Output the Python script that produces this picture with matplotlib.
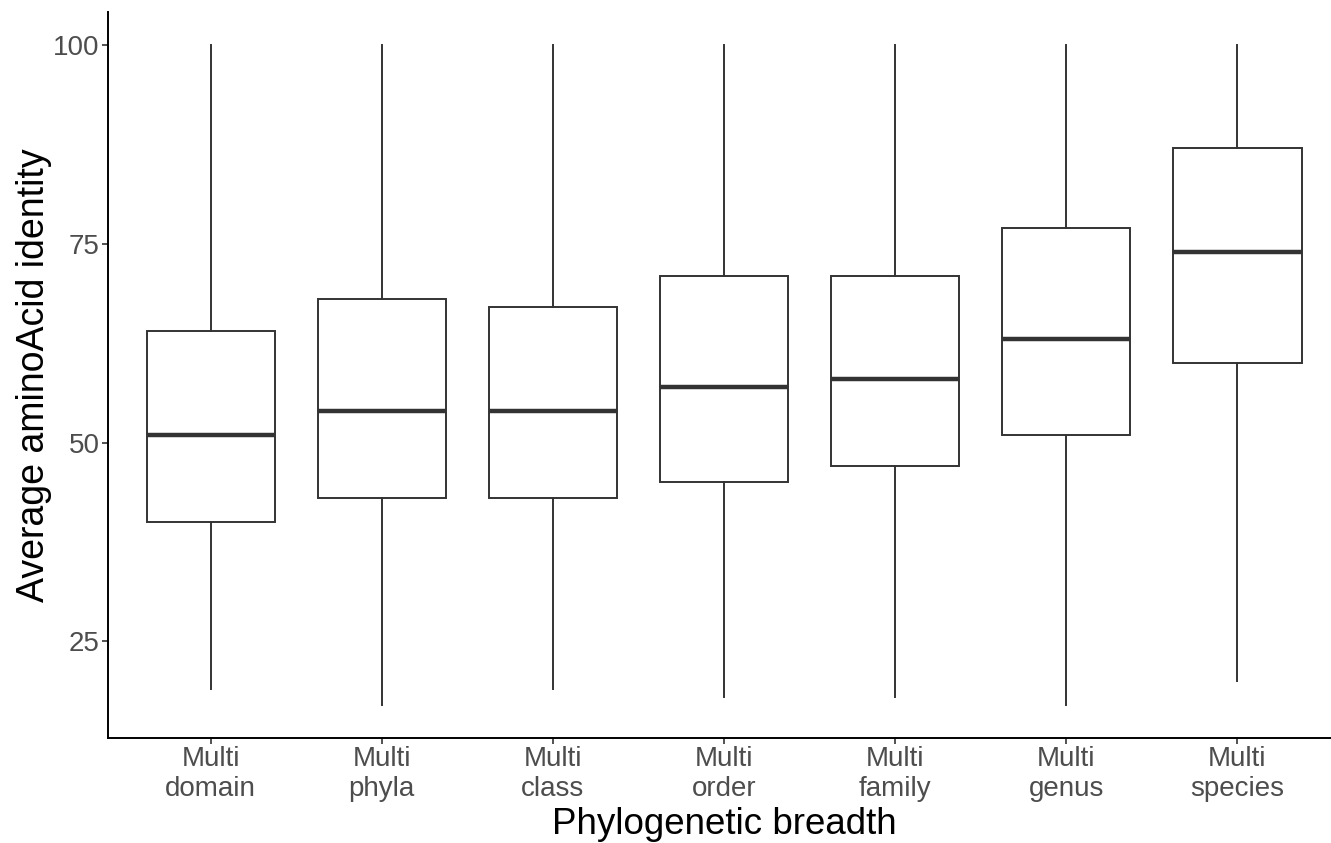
import matplotlib.pyplot as plt

plt.rcParams['font.family'] = ['Liberation Sans', 'DejaVu Sans']

categories = ['Multi\ndomain', 'Multi\nphyla', 'Multi\nclass', 'Multi\norder',
              'Multi\nfamily', 'Multi\ngenus', 'Multi\nspecies']
whisker_low = [19, 17, 19, 18, 18, 17, 20]
q1 = [40, 43, 43, 45, 47, 51, 60]
median = [51, 54, 54, 57, 58, 63, 74]
q3 = [64, 68, 67, 71, 71, 77, 87]
whisker_high = [100, 100, 100, 100, 100, 100, 100]

stats = []
for i in range(len(categories)):
    stats.append({'whislo': whisker_low[i], 'q1': q1[i], 'med': median[i],
                  'q3': q3[i], 'whishi': whisker_high[i], 'fliers': []})

fig = plt.figure(figsize=(13.31, 8.43), dpi=100)
# panel runs slightly past the right edge, as in the reference
ax = fig.add_axes([108 / 1331, 1 - 738 / 843, 1232 / 1331, (738 - 12) / 843])

dark = '#333333'
ax.bxp(stats, positions=range(1, 8), widths=0.75, showcaps=False, patch_artist=True,
       boxprops=dict(facecolor='white', edgecolor=dark, linewidth=1.4),
       whiskerprops=dict(color=dark, linewidth=1.4),
       medianprops=dict(color=dark, linewidth=3.2))

ax.set_xlim(0.4, 7.6)
ax.set_ylim(12.85, 104.15)
ax.set_yticks([25, 50, 75, 100])
ax.set_xticks(range(1, 8))
ax.set_xticklabels(categories, linespacing=1.2)

for side in ['top', 'right']:
    ax.spines[side].set_visible(False)
for side in ['left', 'bottom']:
    ax.spines[side].set_linewidth(1.4)
    ax.spines[side].set_color('black')

ax.tick_params(axis='both', length=4, width=1.2, color=dark, labelcolor='#4D4D4D',
               labelsize=20, pad=2)
ax.set_xlabel('Phylogenetic breadth', fontsize=26.5, labelpad=3)
ax.set_ylabel('Average aminoAcid identity', fontsize=27, labelpad=1)

fig.savefig('out.png', dpi=100)
